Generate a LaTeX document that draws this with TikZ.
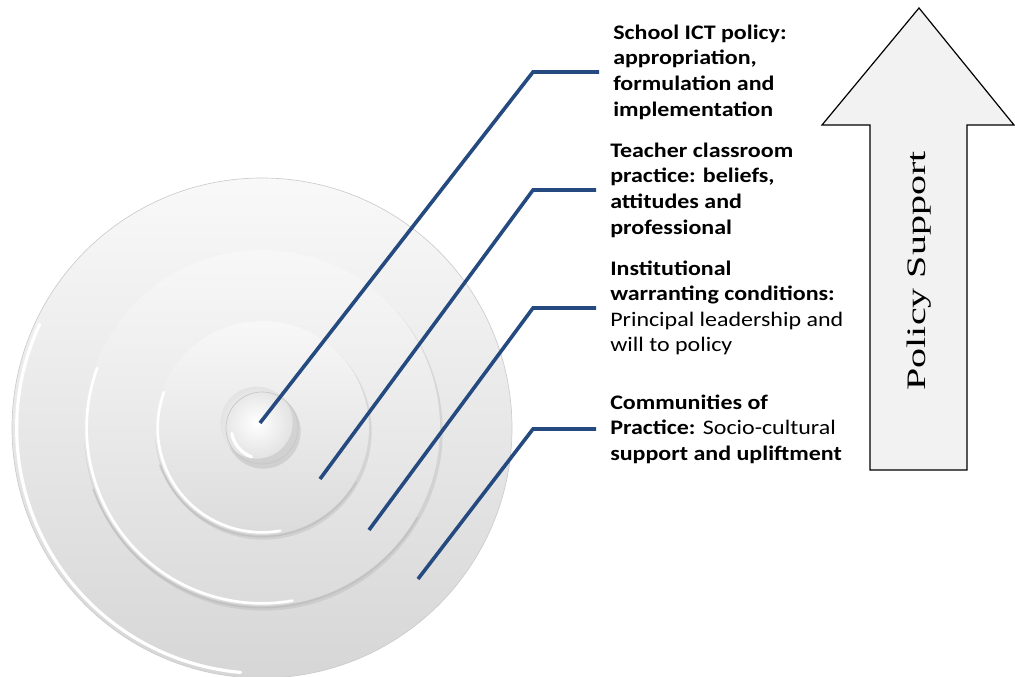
\documentclass[tikz,border=0pt]{standalone}
\usepackage{fontspec}
\setmainfont{Carlito}[FakeStretch=1.16]
\newfontfamily\arrowfont{Liberation Serif}[FakeStretch=1.5]
\usetikzlibrary{positioning}
\definecolor{leaderblue}{RGB}{36,74,127}
\definecolor{arrowgray}{RGB}{242,242,242}

\tikzset{
  leader/.style={leaderblue, line width=2.7pt, shorten >=10.5pt},
  ringlabel/.style={anchor=west, align=left, inner sep=0pt,
    font=\fontsize{15.5}{19.2}\selectfont\bfseries},
  rimlight/.style={white, line width=2pt, line cap=round},
  rimshade/.style={gray!55, line width=1.2pt, line cap=round, opacity=0.6},
}

\begin{document}
\begin{tikzpicture}[x=0.75pt, y=-0.75pt]
  \useasboundingbox (0,0) rectangle (1015,677);
  \coordinate (ctr) at (262,428);
  % Outer disk
  \shade[top color=gray!5, bottom color=gray!32] (ctr) circle[radius=187.5pt];
  \draw[gray!40, line width=0.5pt] (ctr) circle[radius=187.5pt];
  \draw[rimlight, line width=2.4pt] ([shift={(155:184pt)}]ctr) arc[start angle=155, end angle=265, radius=184pt];
  % Raised rings
  \foreach \r in {133.5pt, 80.25pt}{
    \fill[gray!60, opacity=0.35] ([shift={(1pt,-2.5pt)}]ctr) circle[radius=\r+1pt];
    \shade[top color=gray!6, bottom color=gray!28] (ctr) circle[radius=\r];
    \draw[rimshade] ([shift={(200:\r+1.2pt)}]ctr) arc[start angle=200, end angle=330, radius=\r+1.2pt];
    \draw[rimlight] ([shift={(160:\r-2pt)}]ctr) arc[start angle=160, end angle=280, radius=\r-2pt];
  }
  % Inner button
  \fill[gray!60, opacity=0.4] ([shift={(1pt,-2.5pt)}]ctr) circle[radius=28pt];
  \shade[inner color=white, outer color=gray!22] ([shift={(-4pt,4pt)}]ctr) circle[radius=27pt];
  \draw[rimlight, line width=2.4pt] ([shift={(190:23pt)}]ctr) arc[start angle=190, end angle=250, radius=23pt];
  \draw[gray!45, line width=0.5pt] (ctr) circle[radius=27pt];

  % Policy support arrow
  \draw[fill=arrowgray, line width=0.9pt, line join=miter]
    (870,470) -- (870,125) -- (822,125) -- (919,8) -- (1014,125) -- (967,125) -- (967,470) -- cycle;
  \node[rotate=90, font=\arrowfont\fontsize{20}{24}\selectfont] (support) at (919,271) {Policy Support};

  % Labels
  \node[ringlabel] (policy) at (613,72) {School ICT policy:\\appropriation,\\formulation and\\implementation};
  \node[ringlabel] (teacher) at (610,190) {Teacher classroom\\practice: beliefs,\\attitudes and\\professional};
  \node[ringlabel] (institution) at (610,308) {Institutional\\warranting conditions:\\{\mdseries Principal leadership and}\\{\mdseries will to policy}};
  \node[ringlabel] (community) at (610,429) {Communities of\\Practice: {\mdseries Socio-cultural}\\support and upliftment};

  % Leader lines
  \coordinate (tip1) at (260,423);
  \coordinate (tip2) at (320,479);
  \coordinate (tip3) at (369,530);
  \coordinate (tip4) at (418,579);
  \foreach \i/\lbl/\ky in {1/policy/72, 2/teacher/190, 3/institution/308, 4/community/429}{
    \coordinate (knee\i) at (533,\ky);
    \draw[leader] (tip\i) -- (knee\i) -- (\lbl.west);
  }
\end{tikzpicture}
\end{document}
